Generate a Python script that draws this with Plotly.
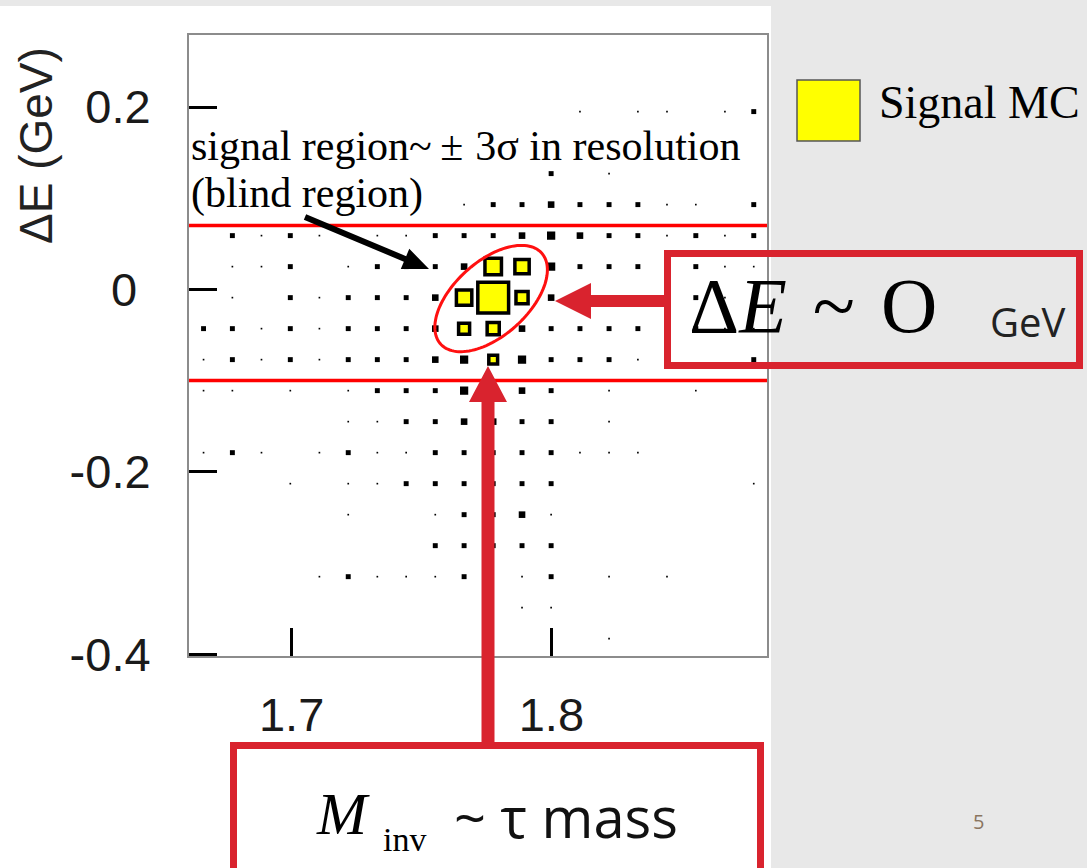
import numpy as np
import plotly.graph_objects as go

# ---------------- data ----------------
# M_inv bin centres (GeV/c^2) and Delta E bin centres (GeV)
m_centres = [1.6661, 1.6772, 1.6884, 1.6995, 1.7107, 1.7218, 1.7330, 1.7441, 1.7553, 1.7664,
             1.7776, 1.7887, 1.7999, 1.8110, 1.8222, 1.8333, 1.8445, 1.8556, 1.8668, 1.8779]
de_centres = [-0.383, -0.349, -0.315, -0.281, -0.247, -0.213, -0.179, -0.145, -0.111, -0.077,
              -0.043, -0.009, 0.025, 0.059, 0.093, 0.127, 0.161, 0.195, 0.229, 0.263]

# background box-histogram contents, one row per Delta E bin (bottom -> top)
bg_counts = [
    [0,0,0,0,0,0,0,0,0,0,1,0,1,0,1,0,0,0,0,0],
    [0,0,0,0,0,0,0,0,0,0,1,1,1,0,0,0,0,0,0,0],
    [0,0,0,0,1,3,1,1,1,3,1,1,3,0,1,0,1,0,0,0],
    [0,0,0,0,0,0,0,0,3,3,3,3,3,0,0,0,0,0,0,0],
    [0,0,0,0,0,1,0,0,1,3,3,4,1,0,0,0,0,0,0,0],
    [0,0,0,1,0,1,1,3,3,3,3,3,3,0,0,0,0,0,0,1],
    [1,3,1,0,1,3,1,1,3,3,3,3,3,1,1,1,0,0,0,0],
    [0,0,0,0,0,1,1,3,3,4,4,3,3,0,1,0,0,0,0,0],
    [1,1,0,1,0,1,3,3,3,5,4,4,3,0,1,0,0,1,0,0],
    [1,3,1,3,1,3,3,3,4,5,4,5,3,3,3,1,0,0,0,3],
    [3,3,1,3,1,3,3,3,4,4,4,4,3,3,3,3,3,3,1,1],
    [0,1,0,3,1,3,3,3,4,4,5,4,4,3,3,3,1,3,1,1],
    [0,1,1,3,0,1,3,3,3,4,4,4,5,3,3,3,1,3,1,1],
    [0,3,1,3,1,0,1,1,3,3,3,4,5,4,3,3,1,3,1,3],
    [0,0,0,0,0,0,0,0,0,1,3,3,4,3,3,3,1,1,0,3],
    [0,0,0,0,0,0,0,0,0,0,0,0,3,0,1,0,0,0,0,0],
    [0,0,0,0,0,0,0,0,0,0,0,0,0,0,0,0,0,0,0,0],
    [0,0,0,0,0,0,0,0,0,0,0,0,0,1,0,1,1,0,1,3],
    [0,0,0,0,0,0,0,0,0,0,0,0,0,0,0,0,0,0,0,0],
    [0,0,0,0,0,0,0,0,0,0,0,0,0,0,0,0,0,0,0,0],
]

# signal MC boxes
sig_m = [1.7664, 1.7776, 1.7887, 1.7776, 1.7887, 1.7664, 1.7776, 1.7776]
sig_de = [-0.009, -0.009, -0.009, 0.025, 0.025, -0.043, -0.043, -0.077]
sig_n = [28, 56, 22, 30, 26, 20, 22, 16]

x_tick_vals = [1.7, 1.8]
x_tick_text = ["1.7", "1.8"]
y_tick_vals = [-0.4, -0.2, 0.0, 0.2]
y_tick_text = ["-0.4", "-0.2", "0\u2009\u200a", "0.2"]

signal_lo, signal_hi = -0.10, 0.07   # red Delta E band

# ---------------- geometry helpers ----------------
W, H = 1087, 868
L, R, T, B = 189, 767, 35, 656
X_RANGE = [1.6605, 1.8830]
Y_RANGE = [-0.402, 0.279]
kx = (R - L) / (X_RANGE[1] - X_RANGE[0])
ky = (B - T) / (Y_RANGE[1] - Y_RANGE[0])


def px(xp):
    return (xp - L) / (R - L)


def py(yp):
    return (B - yp) / (B - T)


def arrow_path(tail, tip, shaft_w, head_len, head_w):
    tail = np.array(tail, float)
    tip = np.array(tip, float)
    d = tip - tail
    u = d / np.linalg.norm(d)
    n = np.array([-u[1], u[0]])
    base = tip - u * head_len
    pts = [tail + n * shaft_w / 2, base + n * shaft_w / 2, base + n * head_w / 2, tip,
           base - n * head_w / 2, base - n * shaft_w / 2, tail - n * shaft_w / 2]
    s = "M " + " L ".join(f"{px(p[0]):.5f},{py(p[1]):.5f}" for p in pts) + " Z"
    return s


# ---------------- traces ----------------
bx, by, bn = [], [], []
for j, row in enumerate(bg_counts):
    for i, c in enumerate(row):
        if c > 0:
            bx.append(m_centres[i])
            by.append(de_centres[j])
            bn.append(c)

fig = go.Figure()
fig.add_trace(go.Scatter(
    x=bx, y=by, mode="markers",
    marker=dict(symbol="square", color="black", opacity=1, size=[1.65 * c for c in bn],
                line=dict(width=0)),
    showlegend=False, hoverinfo="skip"))
fig.add_trace(go.Scatter(
    x=sig_m, y=sig_de, mode="markers",
    marker=dict(symbol="square", color="#ffff00", opacity=1, size=[0.55 * c for c in sig_n],
                line=dict(width=3.5, color="black")),
    showlegend=False, hoverinfo="skip"))

# ---------------- shapes ----------------
RED = "#d9232e"
shapes = []
# slide: white area for plot picture
shapes.append(dict(type="rect", xref="paper", yref="paper", x0=px(0), x1=px(771), y0=py(868), y1=py(6),
                   fillcolor="white", line=dict(width=0), layer="below"))
# red band lines
for yv in (signal_hi, signal_lo):
    shapes.append(dict(type="line", xref="paper", yref="y", x0=0, x1=1, y0=yv, y1=yv,
                       line=dict(color="#ff0000", width=3.5)))
# ellipse (pixel-space semi-axes, rotated)
cx, cy = 1.7768, -0.010
a_px, b_px, th = 68, 37, np.deg2rad(42)
t = np.linspace(0, 2 * np.pi, 120)
ex = cx + (a_px * np.cos(t) * np.cos(th) - b_px * np.sin(t) * np.sin(th)) / kx
ey = cy + (a_px * np.cos(t) * np.sin(th) + b_px * np.sin(t) * np.cos(th)) / ky
epath = "M " + " L ".join(f"{x:.5f},{y:.5f}" for x, y in zip(ex, ey)) + " Z"
shapes.append(dict(type="path", xref="x", yref="y", path=epath, line=dict(color="#ff1010", width=3)))
# arrows
shapes.append(dict(type="path", xref="paper", yref="paper",
                   path=arrow_path((305, 217), (429, 269), 6, 26, 22),
                   fillcolor="black", line=dict(width=0)))
shapes.append(dict(type="path", xref="paper", yref="paper",
                   path=arrow_path((671, 301), (555, 301), 12, 36, 36),
                   fillcolor=RED, line=dict(width=0)))
shapes.append(dict(type="path", xref="paper", yref="paper",
                   path=arrow_path((488, 746), (488, 366), 13, 36, 38),
                   fillcolor=RED, line=dict(width=0)))
# boxes
shapes.append(dict(type="rect", xref="paper", yref="paper", x0=px(667.5), x1=px(1079.5),
                   y0=py(365.5), y1=py(253.5), line=dict(color=RED, width=7)))
shapes.append(dict(type="rect", xref="paper", yref="paper", x0=px(233.5), x1=px(760.5),
                   y0=py(875), y1=py(745.5), line=dict(color=RED, width=7)))
# legend swatch
shapes.append(dict(type="rect", xref="paper", yref="paper", x0=px(797), x1=px(860),
                   y0=py(141), y1=py(80), fillcolor="#ffff00", line=dict(color="#555555", width=1.5)))

# ---------------- annotations ----------------
SERIF = "Liberation Serif"
SANS = "Liberation Sans"
ann = []


def add_text(text, x, y, size, family, xanchor="left", color="black", angle=0):
    ann.append(dict(text=text, x=px(x), y=py(y), xref="paper", yref="paper", showarrow=False,
                    xanchor=xanchor, yanchor="middle", textangle=angle,
                    font=dict(size=size, family=family, color=color)))


add_text("\u0394E (GeV)", 36, 146, 46, SANS, xanchor="center", color="#222222", angle=-90)
add_text("signal region~\u2009\u00b1\u2009\u200a3\u03c3 in resolution", 189, 146, 42, SERIF)
add_text("(blind region)", 189, 193, 42, SERIF)
add_text("Signal MC", 877, 102, 46, SERIF)
add_text("\u0394<i>E</i> \u200a~ \u200aO", 687, 305, 78, SERIF)
add_text("GeV", 988, 321, 40, "Open Sans", color="#222222")
add_text("<i>M</i>", 314, 814, 60, SERIF)
add_text("inv", 381, 839, 34, SERIF)
add_text("~ \u03c4 mass", 452, 816, 56, "Open Sans", color="#111111")
add_text("5", 978, 821, 20, "Open Sans", xanchor="center", color="#8a7560")

axis_common = dict(showgrid=False, zeroline=False, showline=True, linecolor="#8c8c8c", linewidth=2,
                   mirror=True, ticks="inside", ticklen=28, tickwidth=3, tickcolor="black",
                   tickfont=dict(family=SANS, size=47, color="#1a1a1a"))

fig.update_layout(
    width=W, height=H, autosize=False,
    margin=dict(l=L, r=W - R, t=T, b=H - B, pad=0),
    paper_bgcolor="#e8e8e8", plot_bgcolor="white",
    xaxis=dict(range=X_RANGE, tickvals=x_tick_vals, ticktext=x_tick_text, ticklabelstandoff=17,
               **axis_common),
    yaxis=dict(range=Y_RANGE, tickvals=y_tick_vals, ticktext=y_tick_text, ticklabelstandoff=27,
               **axis_common),
    shapes=shapes, annotations=ann, showlegend=False,
)

fig.write_html("out.html")
